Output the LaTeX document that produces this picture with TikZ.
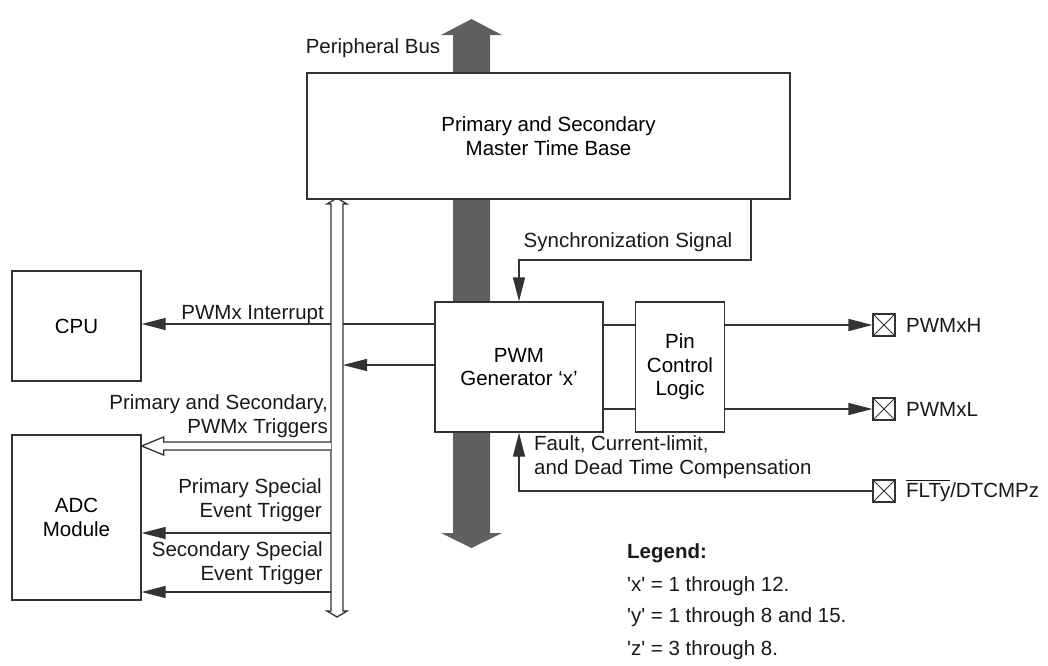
\documentclass[tikz,border=0pt]{standalone}
\usepackage{fontspec}
\setmainfont{Liberation Sans}
\usepackage{tikz}
\usetikzlibrary{arrows.meta, calc}

\definecolor{inkline}{HTML}{333333}
\definecolor{busgray}{HTML}{606060}
\newcommand{\barsig}[1]{\setbox0\hbox{#1}\rlap{\rule[\dimexpr\ht0+2.5pt\relax]{\wd0}{1.1pt}}\box0}

\begin{document}
\begin{tikzpicture}[
  x=1pt, y=-1pt,
  font=\fontsize{20.5}{23.5}\selectfont,
  block/.style={rectangle, draw=inkline, line width=1.3pt, fill=white, align=center, inner sep=0pt},
  pad/.style={rectangle, draw=inkline, line width=1.1pt, fill=white, minimum size=22pt, inner sep=0pt,
    path picture={\draw[inkline, line width=0.8pt] (path picture bounding box.north west) -- (path picture bounding box.south east)
      (path picture bounding box.north east) -- (path picture bounding box.south west);}},
  wire/.style={draw=inkline, line width=1.3pt},
  arrow/.style={wire, -{Triangle[length=24pt, width=12pt]}},
  note/.style={inner sep=0pt, text=black!90}
]
\useasboundingbox (0,0) rectangle (1048,665);

% peripheral bus
\fill[busgray] (471.5,19) -- (502,35) -- (490,35) -- (490,533) -- (502,533) -- (471.5,548)
  -- (441,533) -- (453,533) -- (453,35) -- (441,35) -- cycle;
\node[note] (periph) at (373,48) {Peripheral Bus};

% trigger bus
\draw[wire, fill=white] (337,198) -- (347,204) -- (343,204) -- (343,611) -- (347,611) -- (337,617)
  -- (327,611) -- (331,611) -- (331,204) -- (327,204) -- cycle;
\coordinate (busL) at (331,0);
\coordinate (busR) at (343,0);

\node[block, minimum width=483pt, minimum height=126pt] (master) at (548.5,136) {Primary and Secondary\\Master Time Base};
\node[block, minimum width=129pt, minimum height=110pt] (cpu) at (76.5,326) {CPU};
\node[block, minimum width=129pt, minimum height=165pt] (adc) at (76.5,517.5) {ADC\\Module};
\node[block, minimum width=168pt, minimum height=130pt] (gen) at (519,367) {PWM\\Generator `x'};
\node[block, minimum width=89pt, minimum height=130pt] (pin) at (680,367) {Pin\\Control\\Logic};

\node[pad] (padH) at (884,325) {};
\node[pad] (padL) at (884,409) {};
\node[pad] (padF) at (884,491) {};
\node[note, anchor=west] (lblH) at (906,325) {PWMxH};
\node[note, anchor=west] (lblL) at (906,409) {PWMxL};
\node[note, anchor=west] (lblF) at (906,491) {\barsig{FLTy}/DTCMPz};

\coordinate (irq) at (0,324);
\coordinate (ret) at (0,365);
\coordinate (outH) at (0,325);
\coordinate (outL) at (0,409);
\coordinate (trigA) at (0,442);
\coordinate (trigB) at (0,450);
\coordinate (evtP) at (0,533);
\coordinate (evtS) at (0,592);
\coordinate (synccol) at (751,260);
\coordinate (fltcol) at (519,0);

% generator to bus and CPU
\draw[wire] (gen.west |- irq) -- (busR |- irq);
\draw[arrow] (busL |- irq) -- (cpu.east |- irq);
\node[note, anchor=base east] (irqlbl) at (324,319) {PWMx Interrupt};
\draw[arrow] (gen.west |- ret) -- (busR |- ret);

% sync and fault inputs
\draw[arrow] (master.south -| synccol) -- (synccol) -| (gen.north -| fltcol);
\node[note] (synclbl) at (628,242) {Synchronization Signal};
\draw[arrow] (padF.west) -| (gen.south -| fltcol);
\node[note, anchor=west, align=left] (fltlbl) at (534,457) {Fault, Current-limit,\\and Dead Time Compensation};

% outputs
\draw[wire] (gen.east |- outH) -- (pin.west |- outH);
\draw[wire] (gen.east |- outL) -- (pin.west |- outL);
\draw[arrow] (pin.east |- outH) -- (padH.west);
\draw[arrow] (pin.east |- outL) -- (padL.west);

% ADC triggers
\draw[wire, fill=white] (busL |- trigA) -- ($(adc.east |- trigA)+(22,0)$) -- ++(0,-5)
  -- ($(adc.east |- trigA)!0.5!(adc.east |- trigB)$) -- ($(adc.east |- trigB)+(22,5)$) -- ++(0,-5) -- (busL |- trigB);
\node[note, anchor=east, align=right] (triglbl) at (328,416) {Primary and Secondary,\\PWMx Triggers};
\draw[arrow] (busL |- evtP) -- (adc.east |- evtP);
\node[note, anchor=east, align=right] (evtPlbl) at (322,500) {Primary Special\\Event Trigger};
\draw[arrow] (busL |- evtS) -- (adc.east |- evtS);
\node[note, anchor=east, align=right] (evtSlbl) at (323,563) {Secondary Special\\Event Trigger};

% legend
\node[note, anchor=west, font=\fontsize{20.5}{23.5}\selectfont\bfseries] (legend) at (627,553) {Legend:};
\node[note, anchor=west] (legx) at (627,586) {\textquotesingle x\textquotesingle{} = 1 through 12.};
\node[note, anchor=west] (legy) at (627,617) {\textquotesingle y\textquotesingle{} = 1 through 8 and 15.};
\node[note, anchor=west] (legz) at (627,650) {\textquotesingle z\textquotesingle{} = 3 through 8.};
\end{tikzpicture}
\end{document}
